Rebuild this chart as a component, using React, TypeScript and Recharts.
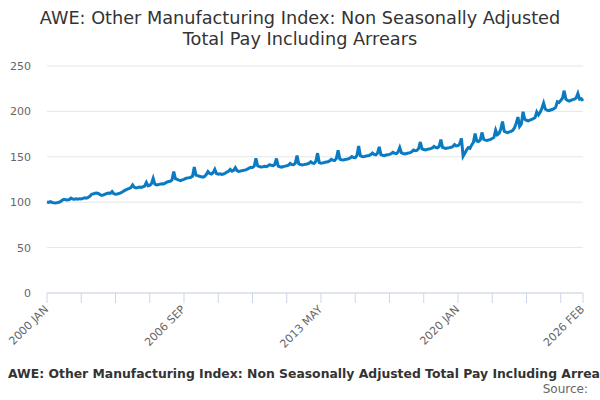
import { CartesianGrid, Line, LineChart, XAxis, YAxis } from "recharts";

const MONTHS = ["JAN", "FEB", "MAR", "APR", "MAY", "JUN", "JUL", "AUG", "SEP", "OCT", "NOV", "DEC"];

// monthly index values, one row per year (2000 = 100)
const y2000 = [100.2, 99.8, 100.6, 99.7, 99.3, 99.1, 99.5, 99.9, 100.8, 102.4, 103.1, 102.6];
const y2001 = [102.4, 102.9, 104.6, 103.5, 103.2, 103.7, 103.4, 103.9, 103.6, 104.2, 104.8, 104.5];
const y2002 = [105.3, 106.4, 108.6, 109.2, 109.8, 110.1, 109.6, 108.2, 107.5, 108.0, 108.9, 109.6];
const y2003 = [110.2, 109.7, 111.8, 109.3, 108.8, 109.1, 109.6, 110.3, 111.2, 112.5, 113.6, 114.4];
const y2004 = [115.2, 116.1, 119.0, 116.4, 115.8, 116.2, 116.7, 116.3, 117.0, 117.8, 121.8, 118.2];
const y2005 = [118.6, 120.4, 126.2, 119.8, 119.1, 119.4, 119.9, 120.3, 120.1, 121.0, 122.1, 122.8];
const y2006 = [123.1, 124.6, 133.8, 125.9, 125.1, 124.3, 123.8, 124.6, 125.2, 126.1, 126.8, 127.0];
const y2007 = [127.4, 128.8, 138.6, 129.9, 129.2, 128.6, 128.1, 127.5, 128.3, 130.4, 133.8, 131.6];
const y2008 = [131.0, 132.4, 136.2, 131.5, 130.8, 131.2, 130.6, 131.0, 131.9, 133.1, 134.0, 136.1];
const y2009 = [134.2, 135.1, 138.1, 134.6, 133.9, 134.3, 134.8, 135.2, 135.6, 136.3, 137.5, 138.4];
const y2010 = [138.2, 139.6, 148.4, 140.1, 139.3, 138.7, 138.9, 139.5, 139.2, 140.0, 141.3, 140.6];
const y2011 = [140.2, 141.5, 148.1, 139.8, 139.1, 138.6, 139.3, 139.7, 140.2, 140.8, 142.6, 141.4];
const y2012 = [141.2, 143.0, 151.3, 142.3, 141.5, 141.0, 141.4, 141.8, 142.1, 142.9, 144.6, 143.1];
const y2013 = [142.8, 145.1, 154.0, 143.6, 142.9, 143.3, 143.8, 144.2, 144.6, 145.4, 147.2, 146.1];
const y2014 = [146.0, 148.2, 157.1, 147.5, 146.8, 146.4, 147.0, 147.3, 147.8, 148.6, 150.3, 149.2];
const y2015 = [149.0, 151.6, 161.8, 151.2, 150.4, 150.1, 150.7, 151.1, 151.5, 152.3, 154.1, 152.6];
const y2016 = [152.2, 154.0, 160.9, 152.4, 151.6, 151.3, 151.9, 152.3, 152.7, 153.4, 155.0, 153.8];
const y2017 = [153.5, 155.2, 160.2, 154.3, 153.6, 153.2, 153.7, 154.1, 154.6, 155.5, 157.4, 156.8];
const y2018 = [157.0, 159.1, 166.3, 158.7, 158.1, 157.6, 158.2, 158.6, 159.0, 159.7, 161.5, 160.2];
const y2019 = [159.8, 161.4, 169.0, 160.3, 159.7, 159.2, 159.8, 160.1, 160.5, 161.3, 163.4, 162.0];
const y2020 = [162.3, 164.1, 170.2, 150.6, 153.8, 157.5, 160.2, 159.4, 163.1, 166.0, 175.6, 167.4];
const y2021 = [166.8, 168.5, 176.8, 169.4, 168.3, 168.0, 168.7, 169.2, 170.1, 171.4, 179.3, 174.2];
const y2022 = [175.8, 180.5, 188.9, 178.2, 177.1, 176.6, 177.4, 178.0, 179.1, 182.0, 187.0, 193.8];
const y2023 = [183.4, 186.2, 199.6, 191.3, 190.2, 189.6, 190.4, 191.1, 192.0, 193.2, 199.4, 196.1];
const y2024 = [199.0, 203.5, 209.2, 202.6, 201.3, 200.8, 201.5, 202.1, 203.0, 204.4, 210.6, 209.8];
const y2025 = [212.0, 214.5, 222.8, 213.6, 212.1, 211.4, 212.3, 212.9, 213.6, 214.8, 219.8, 213.4];
const y2026 = [213.9, 211.6];

const years = [
  y2000, y2001, y2002, y2003, y2004, y2005, y2006, y2007, y2008, y2009,
  y2010, y2011, y2012, y2013, y2014, y2015, y2016, y2017, y2018, y2019,
  y2020, y2021, y2022, y2023, y2024, y2025, y2026,
];

// tick marks every 20 months, labels on every fourth one plus the last month
const tickMarks = [
  "2000 JAN", "2001 SEP", "2003 MAY", "2005 JAN", "2006 SEP", "2008 MAY",
  "2010 JAN", "2011 SEP", "2013 MAY", "2015 JAN", "2016 SEP", "2018 MAY",
  "2020 JAN", "2021 SEP", "2023 MAY", "2025 JAN", "2026 FEB",
];
const tickLabels = ["2000 JAN", "2006 SEP", "2013 MAY", "2020 JAN", "2026 FEB"];
const yTicks = [0, 50, 100, 150, 200, 250];

const data = years.flatMap((row, i) =>
  row.map((value, m) => ({ date: `${2000 + i} ${MONTHS[m]}`, value }))
);

const TITLE = "AWE: Other Manufacturing Index: Non Seasonally Adjusted";
const TITLE_2 = "Total Pay Including Arrears";
const CAPTION = "AWE: Other Manufacturing Index: Non Seasonally Adjusted Total Pay Including Arrears";

const FONT = "'DejaVu Sans', sans-serif";
const LINE_COLOR = "#0a7bc2";

function DateTick({ x, y, payload }: any) {
  if (!tickLabels.includes(payload.value)) return null;
  return (
    <text
      x={x + 2}
      y={y + 5}
      transform={`rotate(-45, ${x + 2}, ${y + 5})`}
      textAnchor="end"
      fontSize={11}
      fill="#666666"
      fontFamily={FONT}
    >
      {payload.value}
    </text>
  );
}

export default function App() {
  return (
    <div style={{ position: "absolute", left: 0, top: 0, width: 600, height: 400, background: "#fff", overflow: "hidden" }}>
      <LineChart
        width={600}
        height={400}
        data={data}
        margin={{ top: 66, right: 17, bottom: 47, left: 0 }}
      >
        <CartesianGrid stroke="#e6e6e6" vertical={false} />
        <XAxis
          dataKey="date"
          ticks={tickMarks}
          interval={0}
          height={60}
          tick={<DateTick />}
          tickSize={10}
          tickLine={{ stroke: "#ccd6eb" }}
          axisLine={{ stroke: "#ccd6eb" }}
        />
        <YAxis
          domain={[0, 250]}
          ticks={yTicks}
          width={47}
          tickLine={false}
          axisLine={false}
          tickMargin={10}
          tick={{ fontSize: 11, fill: "#666666", fontFamily: FONT }}
        />
        <Line
          type="linear"
          dataKey="value"
          stroke={LINE_COLOR}
          strokeWidth={3}
          dot={false}
          isAnimationActive={false}
        />
      </LineChart>
      <svg
        width={600}
        height={400}
        style={{ position: "absolute", left: 0, top: 0, pointerEvents: "none" }}
      >
        <text x={300} y={24} textAnchor="middle" fontSize={17.7} fill="#333333" fontFamily={FONT}>
          {TITLE}
        </text>
        <text x={300} y={45} textAnchor="middle" fontSize={17.7} fill="#333333" fontFamily={FONT}>
          {TITLE_2}
        </text>
        <text x={8} y={378} fontSize={12.4} fontWeight="bold" fill="#333333" fontFamily={FONT}>
          {CAPTION}
        </text>
        <text x={588} y={393} textAnchor="end" fontSize={12} fill="#666666" fontFamily={FONT}>
          Source:
        </text>
      </svg>
    </div>
  );
}
